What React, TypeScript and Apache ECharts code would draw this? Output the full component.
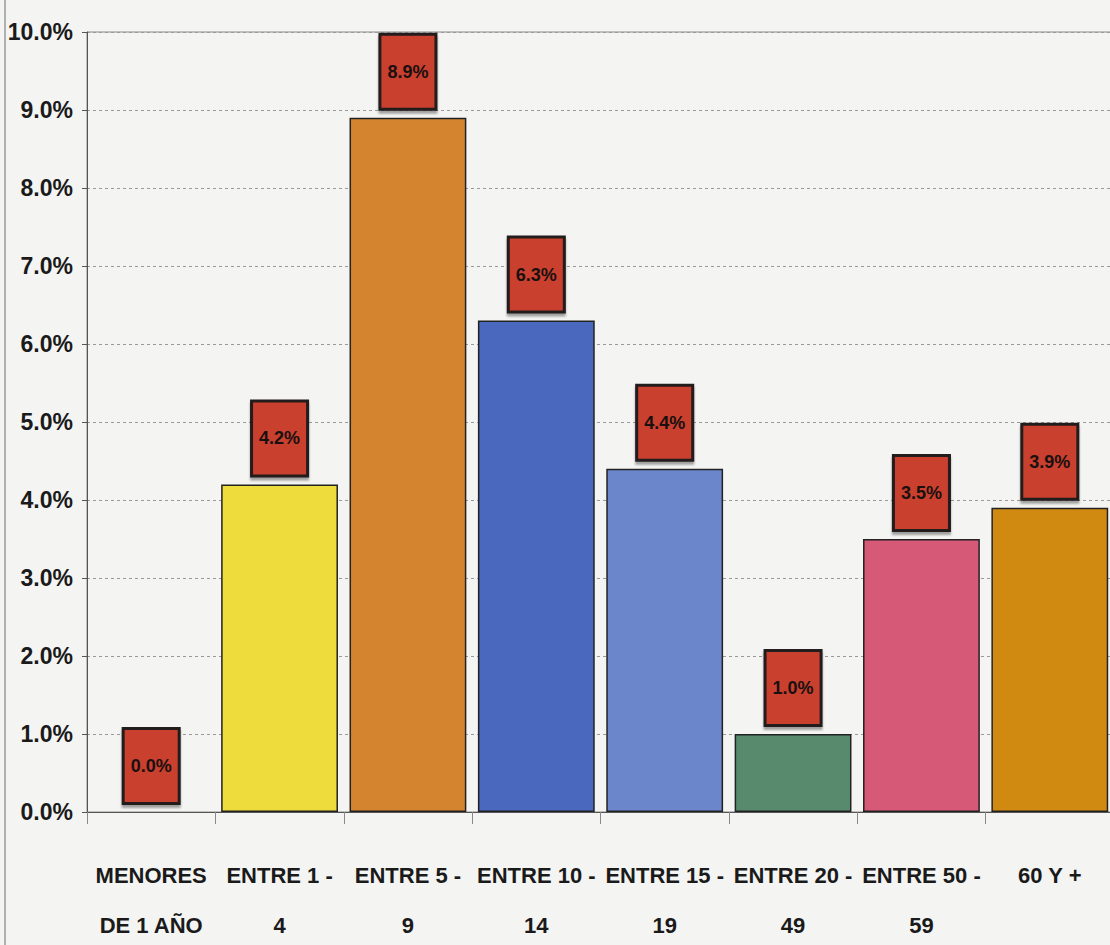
import React, { useEffect, useRef } from "react";
import * as echarts from "echarts";

const categories = [
  "MENORES\nDE 1 AÑO",
  "ENTRE 1 -\n4",
  "ENTRE 5 -\n9",
  "ENTRE 10 -\n14",
  "ENTRE 15 -\n19",
  "ENTRE 20 -\n49",
  "ENTRE 50 -\n59",
  "60 Y +",
];
const values = [0.0, 4.2, 8.9, 6.3, 4.4, 1.0, 3.5, 3.9];
const barColors = ["#d8d8d8", "#eedb3c", "#d4842f", "#4a68bd", "#6c86cb", "#588b6d", "#d65a78", "#d08a12"];

const FONT = "'Liberation Sans', Arial, sans-serif";

export default function App() {
  const ref = useRef<HTMLDivElement>(null);
  useEffect(() => {
    document.body.style.margin = "0";
    const chart = echarts.init(ref.current!, undefined, { renderer: "svg" });
    chart.setOption({
      animation: false,
      backgroundColor: "#f4f4f3",
      grid: {
        left: 87,
        top: 32,
        bottom: 133,
        right: -4,
        outerBoundsMode: "none",
        containLabel: false,
        show: true,
        borderColor: "#8a8a8a",
        borderWidth: 1,
      },
      graphic: [
        {
          type: "line",
          shape: { x1: 5, y1: 0, x2: 5, y2: 945 },
          style: { stroke: "#b0b0b0", lineWidth: 2 },
        },
      ],
      xAxis: {
        type: "category",
        data: categories,
        axisLine: { show: true, lineStyle: { color: "#555", width: 1 } },
        axisTick: { show: true, length: 12, lineStyle: { color: "#888", width: 1 } },
        axisLabel: {
          interval: 0,
          margin: 38,
          fontFamily: FONT,
          fontWeight: "bold",
          fontSize: 22,
          lineHeight: 50,
          color: "#1a1a1a",
        },
      },
      yAxis: {
        type: "value",
        min: 0,
        max: 10,
        interval: 1,
        axisLine: { show: true, lineStyle: { color: "#555", width: 1 } },
        axisTick: { show: true, length: 5, lineStyle: { color: "#555" } },
        splitLine: { show: true, lineStyle: { color: "#9a9a9a", type: [3, 3], width: 1 } },
        axisLabel: {
          margin: 14,
          fontFamily: FONT,
          fontWeight: "bold",
          fontSize: 23,
          color: "#1a1a1a",
          formatter: (v: number) => v.toFixed(1) + "%",
        },
      },
      series: [
        {
          type: "bar",
          barCategoryGap: "9%",
          data: values.map((v, i) => ({
            value: v,
            itemStyle: {
              color: barColors[i],
              borderColor: "#222",
              borderWidth: v === 0 ? 0 : 1.5,
            },
          })),
          label: {
            show: true,
            position: "top",
            distance: 10,
            formatter: (p: any) => p.value.toFixed(1) + "%",
            fontFamily: FONT,
            fontWeight: "bold",
            fontSize: 18,
            color: "#1a1010",
            backgroundColor: "#c9412f",
            borderColor: "#241a1a",
            borderWidth: 3,
            padding: [27, 6, 27, 6],
            shadowColor: "rgba(0,0,0,0.35)",
            shadowBlur: 2,
            shadowOffsetY: 3,
          },
        },
      ],
    });
    return () => chart.dispose();
  }, []);
  return <div ref={ref} style={{ width: 1110, height: 945 }} />;
}
